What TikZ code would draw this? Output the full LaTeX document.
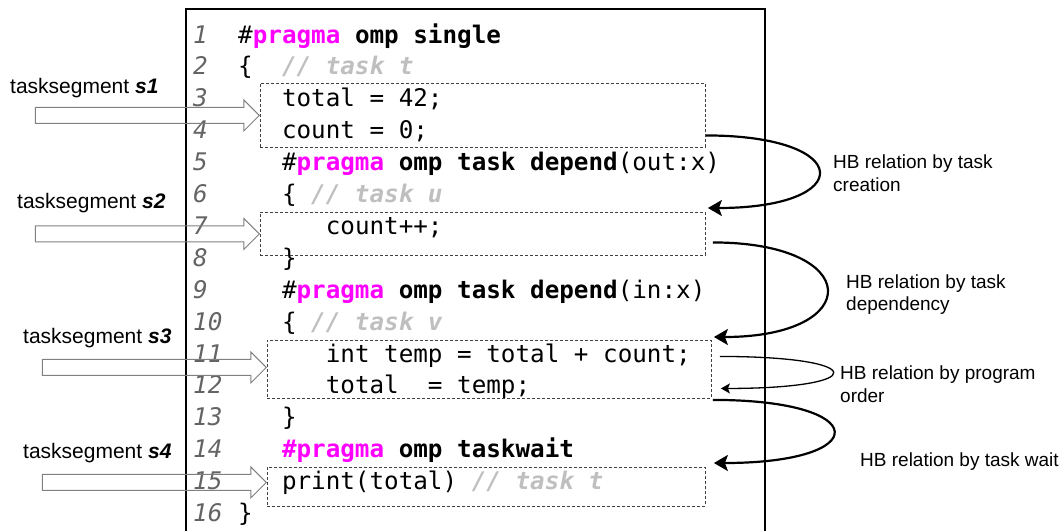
\documentclass[tikz,border=0pt]{standalone}
\usepackage{fontspec}
\setmainfont{Liberation Sans}
\setmonofont{DejaVu Sans Mono}
\usetikzlibrary{arrows.meta, shapes.arrows}

\definecolor{kwpink}{RGB}{255,0,255}
\definecolor{cmtgray}{RGB}{191,191,191}
\definecolor{numgray}{RGB}{100,100,100}
\definecolor{arrgray}{RGB}{128,128,128}
\definecolor{dashgray}{RGB}{64,64,64}

\newcommand{\codefont}{\fontsize{24.25}{30}\selectfont\ttfamily}
\newcommand{\labelfont}{\fontsize{19}{22.5}\selectfont}
\newcommand{\segfont}{\fontsize{21}{24}\selectfont}
\newcommand{\kw}[1]{\textcolor{kwpink}{\textbf{#1}}}
\newcommand{\cmt}[1]{\textcolor{cmtgray}{\textbf{\textit{//\ #1}}}}

\begin{document}
\begin{tikzpicture}[x=1pt, y=-1pt, >={Stealth[length=14pt, width=16pt, inset=3pt]}]
    \tikzset{code/.style = {anchor=base west, inner sep=0pt, font=\codefont},
             num/.style = {anchor=base west, inner sep=0pt, text=numgray, font=\codefont\itshape},
             seg/.style = {draw=dashgray, line width=0.9pt, dash pattern=on 3pt off 2pt, anchor=north west, inner sep=0pt},
             segarr/.style = {single arrow, draw=arrgray, line width=1pt, anchor=tip, minimum height=224pt,
                              inner xsep=0pt, inner ysep=7.5pt, single arrow head extend=7.5pt, single arrow tip angle=90},
             seglabel/.style = {anchor=west, inner sep=0pt, font=\segfont},
             hblabel/.style = {anchor=west, align=left, inner sep=0pt, font=\labelfont},
             hb/.style = {draw, line width=2.2pt}
            }
    \useasboundingbox (0,0) rectangle (1064,531);

    % code frame, open at the bottom
    \draw[line width=1.2pt] (186,531) |- (765,9) -- (765,531);

    % line numbers
    \foreach \i in {1,...,16}
        \node[num] (n\i) at (193, {43+(\i-1)*31.9}) {\i};

    % code lines: number / indent / text
    \foreach \i/\ind/\txt in {
        1/0/{\#\kw{pragma} \textbf{omp single}},
        2/0/{\{\ \ \cmt{task t}},
        3/3/{total = 42;},
        4/3/{count = 0;},
        5/3/{\#\kw{pragma} \textbf{omp task depend}(out:x)},
        6/3/{\{ \cmt{task u}},
        7/6/{count++;},
        8/3/{\}},
        9/3/{\#\kw{pragma} \textbf{omp task depend}(in:x)},
        10/3/{\{ \cmt{task v}},
        11/6/{int temp = total + count;},
        12/6/{total\ \ = temp;},
        13/3/{\}},
        14/3/{\kw{\#pragma} \textbf{omp taskwait}},
        15/3/{print(total) \cmt{task t}},
        16/0/{\}}}
        \node[code] (c\i) at ({238+\ind*14.6}, {43+(\i-1)*31.9}) {\txt};

    % task segments
    \node[seg, minimum width=445pt, minimum height=64pt] (seg1) at (260,83) {};
    \node[seg, minimum width=445pt, minimum height=43pt] (seg2) at (260,212) {};
    \node[seg, minimum width=444pt, minimum height=58pt] (seg3) at (267,340) {};
    \node[seg, minimum width=438pt, minimum height=39pt] (seg4) at (267,467) {};

    \node[segarr] (a1) at (seg1.west) {};
    \node[segarr] (a2) at (seg2.west) {};
    \node[segarr] (a3) at ([yshift=2pt]seg3.west) {};
    \node[segarr] (a4) at ([yshift=4.5pt]seg4.west) {};

    \node[seglabel] (l1) at (10,88) {tasksegment \textbf{\textit{s1}}};
    \node[seglabel] (l2) at (17,203) {tasksegment \textbf{\textit{s2}}};
    \node[seglabel] (l3) at (23,338) {tasksegment \textbf{\textit{s3}}};
    \node[seglabel] (l4) at (23,453) {tasksegment \textbf{\textit{s4}}};

    % happens-before relations
    \draw[hb, ->] ([yshift=-20pt]seg1.east) .. controls +(149,0) and +(149,0) .. ([xshift=2pt, yshift=4pt]seg2.north east);
    \draw[hb, ->] ([xshift=7pt, yshift=-8.5pt]seg2.east) .. controls +(151,0) and +(151,0) .. ([xshift=2pt, yshift=3pt]seg3.north east);
    \draw[line width=1.3pt, -{Stealth[length=9pt, width=10pt, inset=2pt]}] ([xshift=8pt, yshift=13pt]seg3.east) .. controls +(150,0) and +(150,0) .. ([xshift=9pt, yshift=-19pt]seg3.east);
    \draw[hb, ->] ([xshift=1pt, yshift=-1pt]seg3.south east) .. controls +(160,0) and +(160,0) .. ([xshift=8pt, yshift=4pt]seg4.north east);

    \node[hblabel] (h1) at (833,173) {HB relation by task\\creation};
    \node[hblabel] (h2) at (846,294.5) {HB relation by task\\dependency};
    \node[hblabel] (h3) at (840,384) {HB relation by program\\order};
    \node[hblabel] (h4) at (860,462) {HB relation by task wait};
\end{tikzpicture}
\end{document}
